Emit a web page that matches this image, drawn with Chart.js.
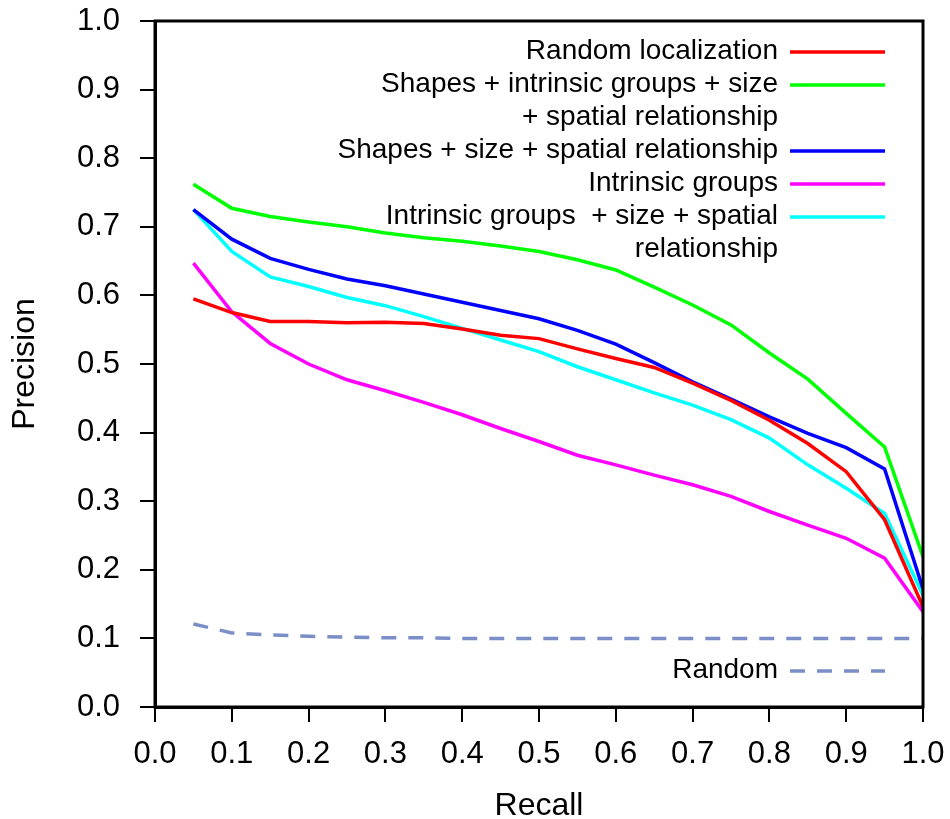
<!DOCTYPE html>
<html>
<head>
<meta charset="utf-8">
<script src="https://cdn.jsdelivr.net/npm/chart.js@4/dist/chart.umd.min.js"></script>
<style>
  html, body { margin: 0; padding: 0; background: #fff; }
  #wrap { width: 950px; height: 819px; }
</style>
</head>
<body>
<div id="wrap"><canvas id="pr"></canvas></div>
<script>
// recall points on the x axis
const recall = [0.05, 0.1, 0.15, 0.2, 0.25, 0.3, 0.35, 0.4, 0.45, 0.5,
                0.55, 0.6, 0.65, 0.7, 0.75, 0.8, 0.85, 0.9, 0.95, 1.0];

// precision for each method
const randomLocalization = [0.595, 0.575, 0.562, 0.562, 0.560, 0.561, 0.559, 0.551, 0.542, 0.537,
                            0.522, 0.508, 0.495, 0.472, 0.447, 0.418, 0.384, 0.343, 0.273, 0.146];
const shapesIntrinsicSizeSpatial = [0.762, 0.727, 0.715, 0.707, 0.700, 0.691, 0.684, 0.679, 0.672, 0.664,
                                    0.652, 0.637, 0.612, 0.586, 0.557, 0.516, 0.478, 0.428, 0.379, 0.219];
const shapesSizeSpatial = [0.725, 0.682, 0.654, 0.638, 0.624, 0.614, 0.602, 0.590, 0.578, 0.566,
                           0.549, 0.529, 0.502, 0.474, 0.449, 0.423, 0.399, 0.378, 0.347, 0.172];
const intrinsicGroups = [0.647, 0.576, 0.530, 0.500, 0.477, 0.461, 0.444, 0.426, 0.406, 0.387,
                         0.367, 0.353, 0.338, 0.324, 0.307, 0.285, 0.265, 0.246, 0.217, 0.139];
const intrinsicSizeSpatial = [0.725, 0.664, 0.627, 0.613, 0.597, 0.585, 0.569, 0.552, 0.535, 0.518,
                              0.496, 0.477, 0.458, 0.440, 0.419, 0.392, 0.353, 0.319, 0.282, 0.163];
const randomBaseline = [0.121, 0.108, 0.105, 0.103, 0.102, 0.101, 0.101, 0.100, 0.100, 0.100,
                        0.100, 0.100, 0.100, 0.100, 0.100, 0.100, 0.100, 0.100, 0.100, 0.100];

// legend texts (one entry per line of text)
const legendLabels = [
  ['Random localization'],
  ['Shapes + intrinsic groups + size', '+ spatial relationship'],
  ['Shapes + size + spatial relationship'],
  ['Intrinsic groups'],
  ['Intrinsic groups  + size + spatial', 'relationship'],
  ['Random']
];
const lineColors = ['#ff0000', '#00ff00', '#0000ff', '#ff00ff', '#00ffff', '#7b8ec8'];
const seriesValues = [randomLocalization, shapesIntrinsicSizeSpatial, shapesSizeSpatial,
                      intrinsicGroups, intrinsicSizeSpatial, randomBaseline];

const FONT = "'Liberation Sans', Arial, sans-serif";

function toPoints(vals) {
  return vals.map((v, i) => ({ x: recall[i], y: v }));
}

const datasets = seriesValues.map((vals, i) => ({
  label: legendLabels[i].join(' '),
  data: toPoints(vals),
  borderColor: lineColors[i],
  borderWidth: 3.5,
  borderDash: i === 5 ? [15, 12] : [],
  pointRadius: 0,
  fill: false,
  tension: 0
}));

// draw the box and the right-aligned legend inside the plot
const boxAndLegend = {
  id: 'boxAndLegend',
  afterDraw(chart) {
    const { ctx, chartArea: a } = chart;
    ctx.save();
    ctx.strokeStyle = '#000';
    ctx.lineWidth = 3;
    ctx.strokeRect(a.left, a.top, a.right - a.left, a.bottom - a.top);

    ctx.font = '28px ' + FONT;
    ctx.textAlign = 'right';
    ctx.textBaseline = 'middle';
    const textRight = 778, lineX0 = 790, lineX1 = 885, rowH = 33;
    let y = a.top + 30;
    chart.data.datasets.forEach((ds, i) => {
      const lines = legendLabels[i];
      let rowY = (i === 5) ? a.bottom - 37 : y;
      lines.forEach((t, k) => {
        ctx.fillStyle = '#000';
        ctx.fillText(t, textRight, rowY + k * rowH);
      });
      ctx.beginPath();
      ctx.strokeStyle = ds.borderColor;
      ctx.lineWidth = 3.5;
      ctx.setLineDash(ds.borderDash || []);
      ctx.moveTo(lineX0, rowY + 1);
      ctx.lineTo(lineX1, rowY + 1);
      ctx.stroke();
      ctx.setLineDash([]);
      if (i !== 5) y += lines.length * rowH;
    });
    ctx.restore();
  }
};

new Chart(document.getElementById('pr'), {
  type: 'line',
  data: { datasets: datasets },
  options: {
    responsive: true,
    maintainAspectRatio: false,
    animation: false,
    layout: { padding: { top: 21, right: 27, left: 0, bottom: 0 } },
    plugins: { legend: { display: false }, tooltip: { enabled: false } },
    scales: {
      x: {
        type: 'linear',
        min: 0, max: 1,
        afterFit(scale) {
          scale.height = 112;
          scale.paddingLeft = 0;
          scale.paddingRight = 0;
        },
        border: { display: true, color: '#000', width: 3 },
        grid: { drawOnChartArea: false, drawTicks: true, tickLength: 15, color: '#000', lineWidth: 2 },
        ticks: {
          stepSize: 0.1,
          autoSkip: false,
          maxRotation: 0,
          padding: 14,
          color: '#000',
          font: { family: FONT, size: 31 },
          callback: v => Number(v).toFixed(1)
        },
        title: {
          display: true, text: 'Recall', color: '#000',
          font: { family: FONT, size: 32 }, padding: { top: 0, bottom: -6 }
        }
      },
      y: {
        type: 'linear',
        min: 0, max: 1,
        afterFit(scale) {
          scale.width = 155;
          scale.paddingTop = 0;
          scale.paddingBottom = 0;
        },
        border: { display: true, color: '#000', width: 3 },
        grid: { drawOnChartArea: false, drawTicks: true, tickLength: 15, color: '#000', lineWidth: 2 },
        ticks: {
          stepSize: 0.1,
          autoSkip: false,
          padding: 20,
          color: '#000',
          font: { family: FONT, size: 31 },
          callback: v => Number(v).toFixed(1)
        },
        title: {
          display: true, text: 'Precision', color: '#000',
          font: { family: FONT, size: 32 }, padding: { top: 6, bottom: 0 }
        }
      }
    }
  },
  plugins: [boxAndLegend]
});
</script>
</body>
</html>
